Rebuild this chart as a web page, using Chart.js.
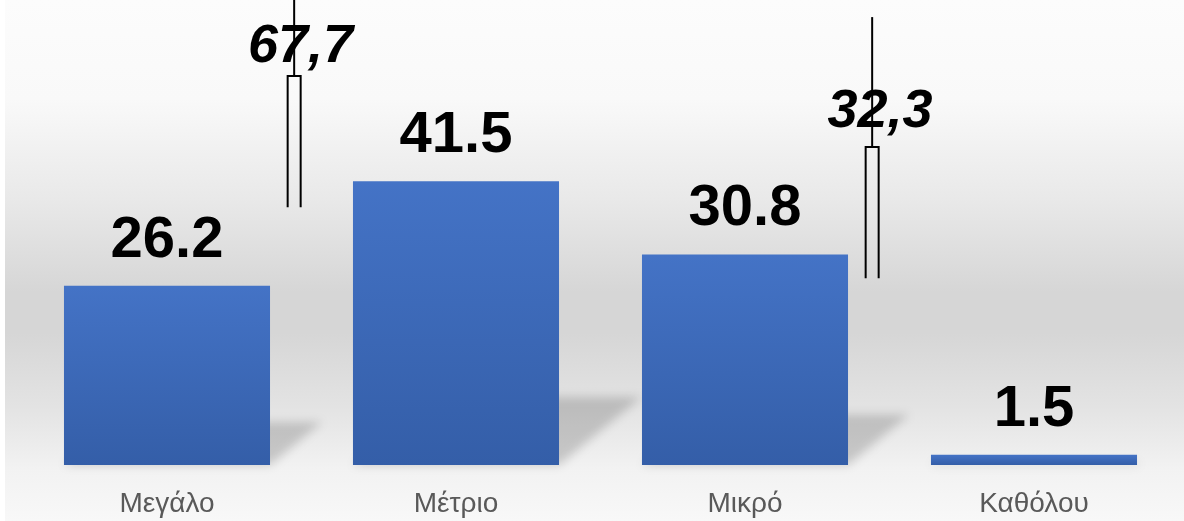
<!DOCTYPE html>
<html>
<head>
<meta charset="utf-8">
<script src="https://cdn.jsdelivr.net/npm/chart.js@4.4.1/dist/chart.umd.min.js"></script>
<style>
  html, body { margin: 0; padding: 0; background: #fff; }
  #wrap { width: 1184px; height: 521px; position: relative; }
</style>
</head>
<body>
<div id="wrap"><canvas id="chart"></canvas></div>
<script>
// chart data
const categories = ['Μεγάλο', 'Μέτριο', 'Μικρό', 'Καθόλου'];
const percentValues = [26.2, 41.5, 30.8, 1.5];
const yMax = 68;

// grouped totals written above the brackets (Μεγάλο+Μέτριο, Μικρό+Καθόλου)
const groupLabels = ['67,7', '32,3'];
const groupAfterIndex = [0, 2];

// bracket shapes, in axis units (x = category index offset, y = value)
const bracketX = 0.44;
const bracketBottom = [37.7, 27.3];
const bracketTop = [56.9, 46.5];
const bracketLineTop = [68, 65.5];
const groupTextX = [0.462, 0.467];
const groupTextY = [58.9, 49.4];

const backdrop = {
    id: 'backdrop',
    beforeDraw(chart) {
        const { ctx, width, height } = chart;
        ctx.save();
        const g = ctx.createLinearGradient(0, 0, 0, height);
        g.addColorStop(0, '#fcfcfc');
        g.addColorStop(0.19, '#f9f9f9');
        g.addColorStop(0.38, '#e9e9e9');
        g.addColorStop(0.56, '#d6d6d6');
        g.addColorStop(0.64, '#d6d6d6');
        g.addColorStop(0.78, '#e3e3e3');
        g.addColorStop(0.9, '#f2f2f2');
        g.addColorStop(1, '#f8f8f8');
        ctx.fillStyle = g;
        ctx.fillRect(5, 0, width - 5, height);
        ctx.restore();
    }
};

// soft perspective shadow behind each bar
const barShadows = {
    id: 'barShadows',
    beforeDatasetsDraw(chart) {
        const { ctx } = chart;
        const meta = chart.getDatasetMeta(0);
        ctx.save();
        ctx.filter = 'blur(5px)';
        ctx.fillStyle = 'rgba(0,0,0,0.17)';
        meta.data.forEach(bar => {
            const h = bar.base - bar.y;
            const left = bar.x - bar.width / 2;
            const right = bar.x + bar.width / 2;
            const hs = h * 0.24;
            const dx = h * 0.29;
            ctx.beginPath();
            ctx.moveTo(left, bar.base);
            ctx.lineTo(right, bar.base);
            ctx.lineTo(right + dx, bar.base - hs);
            ctx.lineTo(left + dx, bar.base - hs);
            ctx.closePath();
            ctx.fill();
        });
        ctx.restore();
    }
};

const valueLabels = {
    id: 'valueLabels',
    afterDatasetsDraw(chart) {
        const { ctx } = chart;
        const meta = chart.getDatasetMeta(0);
        ctx.save();
        ctx.fillStyle = '#000';
        ctx.font = 'bold 58px "Liberation Sans", Arial, sans-serif';
        ctx.textAlign = 'center';
        ctx.textBaseline = 'alphabetic';
        meta.data.forEach((bar, i) => {
            ctx.fillText(percentValues[i].toFixed(1), bar.x, bar.y - 29);
        });
        ctx.restore();
    }
};

const brackets = {
    id: 'brackets',
    afterDraw(chart) {
        const { ctx } = chart;
        const xs = chart.scales.x, ys = chart.scales.y;
        ctx.save();
        groupLabels.forEach((txt, k) => {
            const idx = groupAfterIndex[k];
            ctx.font = 'italic bold 54px "Liberation Sans", Arial, sans-serif';
            ctx.fillStyle = '#000';
            ctx.textAlign = 'center';
            ctx.textBaseline = 'alphabetic';
            ctx.fillText(txt, xs.getPixelForValue(idx + groupTextX[k]), ys.getPixelForValue(groupTextY[k]));

            const cx = xs.getPixelForValue(idx + bracketX);
            const top = ys.getPixelForValue(bracketTop[k]);
            const bottom = ys.getPixelForValue(bracketBottom[k]);
            ctx.strokeStyle = '#000';
            ctx.lineWidth = 2;
            ctx.beginPath();
            ctx.moveTo(cx - 6.5, bottom);
            ctx.lineTo(cx - 6.5, top);
            ctx.lineTo(cx + 6.5, top);
            ctx.lineTo(cx + 6.5, bottom);
            ctx.stroke();
            ctx.beginPath();
            ctx.moveTo(cx, top);
            ctx.lineTo(cx, ys.getPixelForValue(bracketLineTop[k]));
            ctx.stroke();
        });
        ctx.restore();
    }
};

new Chart(document.getElementById('chart'), {
    type: 'bar',
    data: {
        labels: categories,
        datasets: [{
            data: percentValues,
            backgroundColor: (c) => {
                const chart = c.chart;
                if (!chart.chartArea) return '#4472c4';
                const y = chart.scales.y;
                const g = chart.ctx.createLinearGradient(0, y.getPixelForValue(c.raw), 0, y.getPixelForValue(0));
                g.addColorStop(0, '#4473c6');
                g.addColorStop(1, '#345ea8');
                return g;
            },
            borderWidth: 0,
            categoryPercentage: 1,
            barPercentage: 0.713
        }]
    },
    options: {
        responsive: true,
        maintainAspectRatio: false,
        animation: false,
        layout: { padding: { left: 22.5, right: 5.5, top: 0, bottom: 0 } },
        plugins: {
            legend: { display: false },
            tooltip: { enabled: false }
        },
        scales: {
            x: {
                grid: { display: false },
                border: { display: false },
                afterFit: (s) => { s.height = 56; },
                ticks: {
                    color: '#595959',
                    padding: 14,
                    font: { family: '"Liberation Sans", Arial, sans-serif', size: 28 }
                }
            },
            y: {
                display: false,
                min: 0,
                max: yMax
            }
        }
    },
    plugins: [backdrop, barShadows, valueLabels, brackets]
});
</script>
</body>
</html>
